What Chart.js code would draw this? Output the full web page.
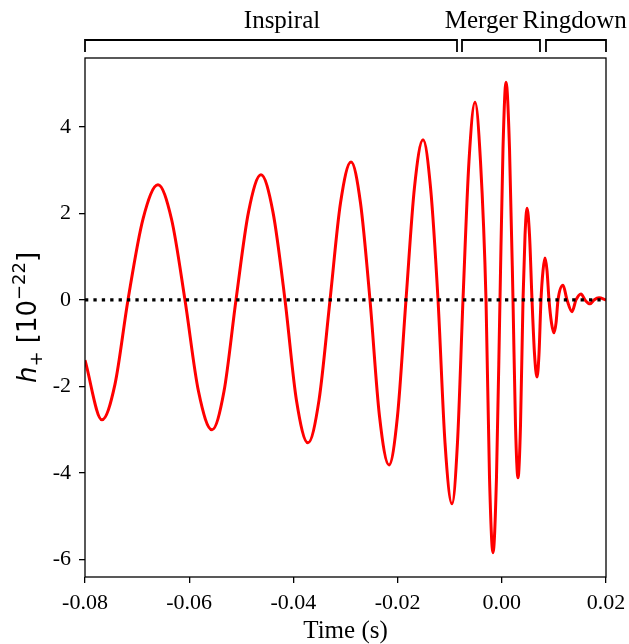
<!DOCTYPE html>
<html>
<head>
<meta charset="utf-8">
<script src="https://cdn.jsdelivr.net/npm/chart.js@4.4.1/dist/chart.umd.min.js"></script>
<style>
  html, body { margin: 0; padding: 0; background: #fff; }
  #wrap { width: 629px; height: 644px; }
</style>
</head>
<body>
<div id="wrap"><canvas id="waveChart" width="629" height="644"></canvas></div>
<script>
// waveform: extrema, zero crossings and points half way between
const timeS = [
  -0.08, -0.07674, -0.07425, -0.07175, -0.06887, -0.06599, -0.0634, -0.06081,
  -0.05822, -0.05562, -0.05332, -0.05102, -0.04862, -0.04622, -0.04392, -0.04161,
  -0.03941, -0.03720, -0.03509, -0.03297, -0.03096, -0.02894, -0.02712, -0.02530,
  -0.02348, -0.02165, -0.02002, -0.01839, -0.01676, -0.01512, -0.01368, -0.01224,
  -0.0109, -0.00956, -0.00851, -0.00745, -0.0063, -0.00514, -0.00409, -0.00303,
  -0.00236, -0.00169, -0.00102, -0.00035, 0.00023, 0.00081, 0.00148, 0.00215,
  0.00263, 0.00311, 0.00359, 0.00407, 0.00446, 0.00484, 0.00532, 0.00580,
  0.00628, 0.00676, 0.00714, 0.00752, 0.00791, 0.00829, 0.00868, 0.00906,
  0.00954, 0.01002, 0.01041, 0.01079, 0.01175, 0.01252, 0.01348, 0.01424,
  0.01520, 0.01597, 0.01693, 0.01770, 0.01866, 0.02
];
const strainH = [
  -1.39, -2.77, -1.95, 0, 1.87, 2.66, 1.87, 0,
  -2.11, -3.00, -2.11, 0, 2.03, 2.89, 2.03, 0,
  -2.32, -3.30, -2.32, 0, 2.24, 3.19, 2.24, 0,
  -2.68, -3.81, -2.68, 0, 2.6, 3.70, 2.6, 0,
  -3.3, -4.71, -3.3, 0, 3.2, 4.57, 3.2, 0,
  -4.1, -5.84, -4.1, 0, 3.5, 5.03, 3.5, 0,
  -2.9, -4.11, -2.9, 0, 1.5, 2.12, 1.5, 0,
  -1.25, -1.78, -1.25, 0, 0.68, 0.97, 0.68, 0,
  -0.53, -0.76, -0.53, 0, 0.34, 0, -0.27, 0,
  0.14, 0, -0.09, 0, 0.05, 0
];

const xTicks = [-0.08, -0.06, -0.04, -0.02, 0.00, 0.02];
const yTicks = [-6, -4, -2, 0, 2, 4];

// phases shown with brackets above the plot
const phaseNames = ["Inspiral", "Merger", "Ringdown"];
const phaseStart = [-0.08, -0.00764, 0.00848];
const phaseEnd = [-0.0086, 0.00733, 0.02];
const phaseLabelX = [-0.04219, -0.00393, 0.01399];

const serif = "'Liberation Serif', 'Times New Roman', serif";
Chart.defaults.font.family = serif;
Chart.defaults.color = "#000";

// frame, brackets and the y label
const extras = {
  id: "extras",
  afterDraw(chart) {
    const ctx = chart.ctx;
    const area = chart.chartArea;
    const x = chart.scales.x;

    ctx.save();
    ctx.strokeStyle = "#000";
    ctx.lineWidth = 1.3;
    ctx.strokeRect(area.left, area.top, area.right - area.left, area.bottom - area.top);

    // brackets
    ctx.lineWidth = 1.8;
    ctx.lineCap = "butt";
    ctx.lineJoin = "miter";
    phaseNames.forEach((name, i) => {
      const x0 = x.getPixelForValue(phaseStart[i]);
      const x1 = x.getPixelForValue(phaseEnd[i]);
      ctx.beginPath();
      ctx.moveTo(x0, 52);
      ctx.lineTo(x0, 40);
      ctx.lineTo(x1, 40);
      ctx.lineTo(x1, 52);
      ctx.stroke();

      ctx.fillStyle = "#000";
      ctx.font = "25px " + serif;
      ctx.textAlign = "center";
      ctx.textBaseline = "alphabetic";
      ctx.fillText(name, x.getPixelForValue(phaseLabelX[i]), 28);
    });

    // y label: h_+ [10^-22]
    const big = "26px 'DejaVu Sans', sans-serif";
    const small = "18px 'DejaVu Sans', sans-serif";
    const parts = [
      { t: "h", f: "italic " + big, dy: 0 },
      { t: "+", f: small, dy: 6 },
      { t: " [10", f: big, dy: 0 },
      { t: "\u221222", f: small, dy: -11 },
      { t: "]", f: big, dy: 0 },
    ];
    let total = 0;
    parts.forEach((p) => {
      ctx.font = p.f;
      p.w = ctx.measureText(p.t).width;
      total += p.w;
    });
    ctx.translate(36, (area.top + area.bottom) / 2);
    ctx.rotate(-Math.PI / 2);
    ctx.textAlign = "left";
    ctx.textBaseline = "alphabetic";
    let cx = -total / 2;
    parts.forEach((p) => {
      ctx.font = p.f;
      ctx.fillText(p.t, cx, p.dy);
      cx += p.w;
    });
    ctx.restore();
  },
};

const points = timeS.map((t, i) => ({ x: t, y: strainH[i] }));

new Chart(document.getElementById("waveChart"), {
  type: "scatter",
  data: {
    datasets: [
      {
        data: [{ x: xTicks[0], y: 0 }, { x: xTicks[xTicks.length - 1], y: 0 }],
        showLine: true,
        borderColor: "#000",
        borderWidth: 3.2,
        borderDash: [3.3, 5.1],
        pointRadius: 0,
        order: 0,
      },
      {
        data: points,
        showLine: true,
        borderColor: "#ff0000",
        borderWidth: 3,
        pointRadius: 0,
        cubicInterpolationMode: "monotone",
        order: 1,
      },
    ],
  },
  options: {
    responsive: false,
    animation: false,
    devicePixelRatio: 1,
    layout: { padding: { top: 58, right: 23, left: 0, bottom: 0 } },
    plugins: {
      legend: { display: false },
      tooltip: { enabled: false },
    },
    scales: {
      x: {
        type: "linear",
        min: -0.08,
        max: 0.02,
        afterBuildTicks: (s) => { s.ticks = xTicks.map((v) => ({ value: v })); },
        afterFit: (s) => {
          s.height = 67;
          s.paddingLeft = 0;
          s.paddingRight = 0;
        },
        grid: { display: true, drawOnChartArea: false, drawTicks: true, tickLength: 6, color: "#000", lineWidth: 1.3 },
        border: { display: false },
        ticks: {
          font: { size: 22 },
          padding: 7,
          maxRotation: 0,
          callback: (v) => v.toFixed(2),
        },
        title: {
          display: true,
          text: "Time (s)",
          font: { size: 25, lineHeight: 1.0 },
          padding: { top: 0, bottom: 0 },
        },
      },
      y: {
        type: "linear",
        min: -6.4,
        max: 5.59,
        afterBuildTicks: (s) => { s.ticks = yTicks.map((v) => ({ value: v })); },
        afterFit: (s) => { s.width = 85; },
        grid: { display: true, drawOnChartArea: false, drawTicks: true, tickLength: 6, color: "#000", lineWidth: 1.3 },
        border: { display: false },
        ticks: {
          font: { size: 22 },
          padding: 8,
          callback: (v) => String(v),
        },
      },
    },
  },
  plugins: [extras],
});
</script>
</body>
</html>
